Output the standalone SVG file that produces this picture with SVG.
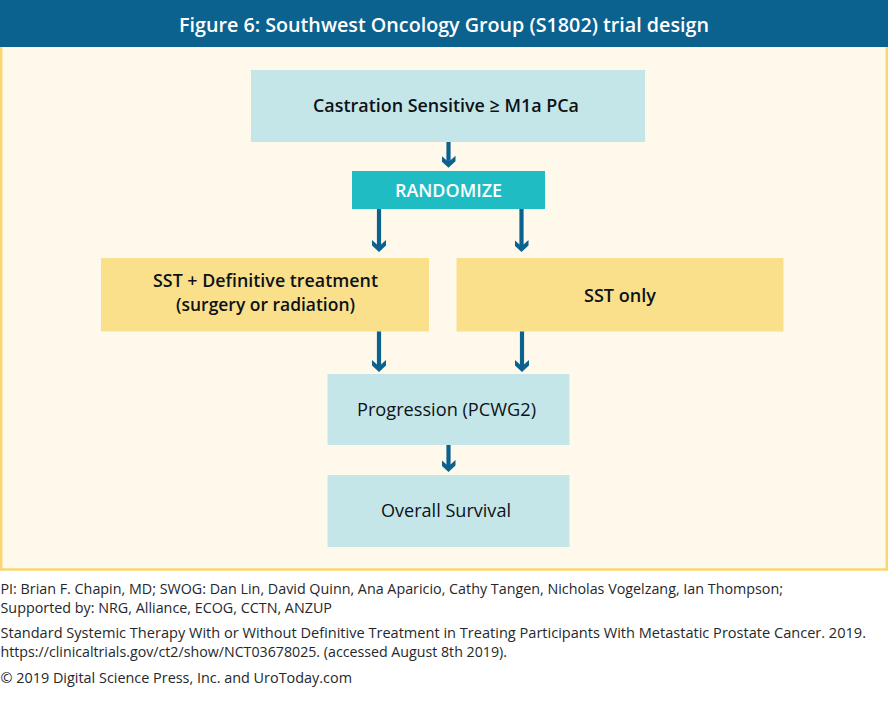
<svg xmlns="http://www.w3.org/2000/svg" width="888" height="713" viewBox="0 0 888 713">
<style>
text{font-family:"Open Sans","Noto Sans","Liberation Sans",sans-serif}
.c{text-anchor:middle}
.t{font-size:18.5px;fill:#0c1218}
.b{font-weight:600}
.f{font-size:14.4px;fill:#24282c}
.teal{fill:#c5e6e8}.yel{fill:#fbe08c}
.conn{stroke:#0b628f;stroke-width:4.2;fill:none;marker-end:url(#head)}
</style>
<defs>
<marker id="head" markerUnits="userSpaceOnUse" markerWidth="14" markerHeight="14" refX="5.5" refY="7" orient="auto">
<path d="M6 0L12.500 7L6 14H.5L5 9V5L.5 0Z" fill="#0b628f"/>
</marker>
</defs>
<rect width="888" height="713" fill="#fff"/>
<g id="frame">
<rect x="1.200" y="40" width="885.600" height="529.500" fill="#fff9ec" stroke="#fad672" stroke-width="2.500"/>
</g>
<g id="header">
<rect width="888" height="47" fill="#0b628f"/>
<text x="444" y="32" class="c b" font-size="20.500" fill="#fff" textLength="530" lengthAdjust="spacingAndGlyphs">Figure 6: Southwest Oncology Group (S1802) trial design</text>
</g>
<g id="connectors">
<path class="conn" d="M448.500 142V160.700"/>
<path class="conn" d="M379 209V245"/>
<path class="conn" d="M521.500 209V245"/>
<path class="conn" d="M379 331V365"/>
<path class="conn" d="M522 331V365"/>
<path class="conn" d="M448.500 445V465"/>
</g>
<g id="node-castration">
<rect class="teal" x="251" y="70" width="394" height="72"/>
<text x="446" y="112" class="c t b" textLength="266" lengthAdjust="spacingAndGlyphs">Castration Sensitive ≥ M1a PCa</text>
</g>
<g id="node-randomize">
<rect x="352" y="171" width="193" height="38" fill="#1fbcc4"/>
<text x="448.500" y="196.500" class="c b" font-size="18" fill="#fff" textLength="107" lengthAdjust="spacingAndGlyphs">RANDOMIZE</text>
</g>
<g id="node-sst-definitive">
<rect class="yel" x="101" y="258" width="328" height="73.500"/>
<text x="265.500" y="287" class="c t b" textLength="225" lengthAdjust="spacingAndGlyphs">SST + Definitive treatment</text>
<text x="265.500" y="311" class="c t b" textLength="179" lengthAdjust="spacingAndGlyphs">(surgery or radiation)</text>
</g>
<g id="node-sst-only">
<rect class="yel" x="456.500" y="258" width="327" height="73.500"/>
<text x="620" y="302" class="c t b" textLength="72" lengthAdjust="spacingAndGlyphs">SST only</text>
</g>
<g id="node-progression">
<rect class="teal" x="327.500" y="374" width="242" height="71"/>
<text x="446.500" y="416" class="c t" textLength="179" lengthAdjust="spacingAndGlyphs">Progression (PCWG2)</text>
</g>
<g id="node-survival">
<rect class="teal" x="327.500" y="475" width="242" height="72"/>
<text x="446" y="517" class="c t" textLength="130" lengthAdjust="spacingAndGlyphs">Overall Survival</text>
</g>
<g id="footer">
<text x="0.500" y="594" class="f" textLength="782.500" lengthAdjust="spacingAndGlyphs">PI: Brian F. Chapin, MD; SWOG: Dan Lin, David Quinn, Ana Aparicio, Cathy Tangen, Nicholas Vogelzang, Ian Thompson;</text>
<text x="0.500" y="613" class="f" textLength="331.500" lengthAdjust="spacingAndGlyphs">Supported by: NRG, Alliance, ECOG, CCTN, ANZUP</text>
<text x="0.500" y="638" class="f" textLength="865.500" lengthAdjust="spacingAndGlyphs">Standard Systemic Therapy With or Without Definitive Treatment in Treating Participants With Metastatic Prostate Cancer. 2019.</text>
<text x="0.500" y="657" class="f" textLength="506.500" lengthAdjust="spacingAndGlyphs">https://clinicaltrials.gov/ct2/show/NCT03678025. (accessed August 8th 2019).</text>
<text x="0.500" y="683" class="f" textLength="351.500" lengthAdjust="spacingAndGlyphs">© 2019 Digital Science Press, Inc. and UroToday.com</text>
</g>
</svg>
